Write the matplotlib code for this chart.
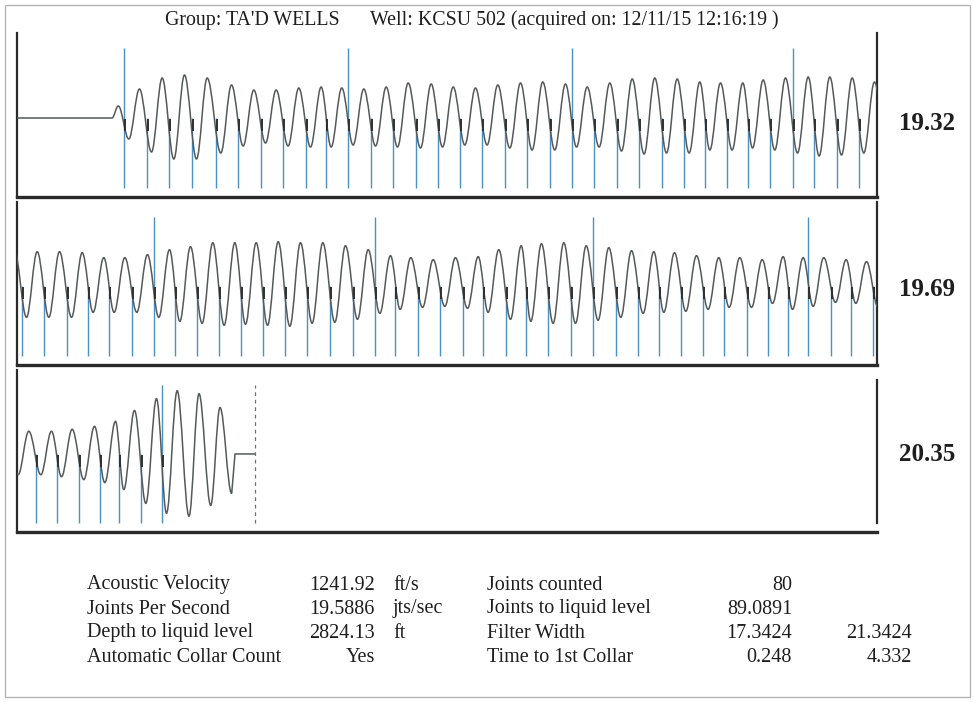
import matplotlib
matplotlib.use("Agg")
from matplotlib import pyplot as plt
from matplotlib.path import Path
from matplotlib.patches import PathPatch, Rectangle

plt.rcParams["font.family"] = ["Liberation Serif", "DejaVu Serif"]

# header
group_name = "TA'D WELLS"
well_name = "KCSU 502"
acquired = "12/11/15 12:16:19"

# collar (joint) arrival times in seconds
collar_t = [
    0.2488, 0.3016, 0.3535, 0.4063, 0.4628, 0.5147, 0.5667, 0.6193, 0.6714, 0.7193,
    0.7705, 0.8226, 0.8737, 0.9272, 0.9784, 1.0302, 1.0821, 1.1349, 1.1867, 1.2395,
    1.2900, 1.3426, 1.3947, 1.4472, 1.4993, 1.5519, 1.6000, 1.6519, 1.6993, 1.7512,
    1.8040, 1.8542, 1.9063, 1.9581,
    2.0109, 2.0628, 2.1156, 2.1658, 2.2147, 2.2674, 2.3186, 2.3674, 2.4193, 2.4705,
    2.5202, 2.5714, 2.6233, 2.6751, 2.7279, 2.7807, 2.8326, 2.8798, 2.9319, 2.9837,
    3.0365, 3.0844, 3.1365, 3.1837, 3.2356, 3.2877, 3.3402, 3.3930, 3.4449, 3.4930,
    3.5442, 3.5960, 3.6449, 3.6970, 3.7458, 3.7923, 3.8402, 3.8923, 3.9395, 3.9914,
    4.0442, 4.0923, 4.1442, 4.1930, 4.2372, 4.2884, 4.3365,
]

# filtered echo: trough just after each collar, peak before the next one
trough_v = [
    -21, -34, -41, -41, -35, -28, -25, -28, -29, -29,
    -27, -28, -29, -30, -29, -27, -27, -30, -32, -32,
    -29, -29, -33, -36, -35, -35, -32, -32, -30, -32,
    -35, -38, -37, -35,
    -31, -31, -31, -26, -26, -26, -31, -35, -37, -39,
    -38, -39, -40, -37, -36, -33, -27, -23, -21, -20,
    -22, -26, -33, -35, -37, -37, -34, -31, -27, -26,
    -25, -23, -21, -21, -17, -23, -20, -16, -17, -21,
    -21, -23, -26, -29, -36, -50, -60,
]
peak_v = [
    29, 40, 43, 40, 33, 28, 28, 30, 31, 30,
    29, 31, 35, 34, 31, 30, 33, 35, 36, 34,
    31, 35, 39, 40, 39, 36, 35, 35, 38, 40,
    41, 41, 40, 36,
    35, 35, 34, 29, 29, 32, 37, 40, 44, 44,
    44, 45, 44, 44, 41, 37, 31, 29, 27, 29,
    30, 37, 41, 43, 44, 41, 39, 36, 35, 34,
    31, 29, 29, 27, 30, 29, 29, 27, 25, 23,
    23, 25, 28, 33, 44, 56, 64,
]

# echo onset and the tail past the last counted collar
onset_t = [0.2209, 0.2356]
onset_v = [0, 12]
tail_t = [4.4000, 4.4233, 4.4505, 4.4721, 4.4993]
tail_v = [-63, 61, -52, 47, -40]
trace_end_t = 4.5070
liquid_t = 4.5535

panel_labels = ["19.32", "19.69", "20.35"]
panel_seconds = 2.0

left_labels = ["Acoustic Velocity", "Joints Per Second", "Depth to liquid level", "Automatic Collar Count"]
left_values = ["1241.92", "19.5886", "2824.13", "Yes"]
left_units = ["ft/s", "jts/sec", "ft", ""]
right_labels = ["Joints counted", "Joints to liquid level", "Filter Width", "Time to 1st Collar"]
right_values = ["80", "89.0891", "17.3424", "0.248"]
extra_values = ["", "", "21.3424", "4.332"]

W, H = 975, 702
TROUGH_LAG = 0.0112
PEAK_LAG = 0.036
WAVE_COLOR = "#55595a"
COLLAR_COLOR = "#4b90c6"
FRAME_COLOR = "#2a2a2a"
TEXT_COLOR = "#1e1e1e"


def fx(x):
    return x / W


def fy(y):
    return 1 - y / H


def build_trace():
    ext = [(onset_t[1], onset_v[1])]
    for t, tv, pv in zip(collar_t, trough_v, peak_v):
        ext.append((t + TROUGH_LAG, tv))
        ext.append((t + PEAK_LAG, pv))
    ext += list(zip(tail_t, tail_v))

    verts = [(0.0, 0.0), (onset_t[0], onset_v[0])]
    codes = [Path.MOVETO, Path.LINETO]
    a = 0.3634  # bezier handle that follows a half cosine
    prev = verts[-1]
    for cur in ext:
        dt = cur[0] - prev[0]
        verts += [(prev[0] + a * dt, prev[1]), (cur[0] - a * dt, cur[1]), cur]
        codes += [Path.CURVE4] * 3
        prev = cur
    verts += [(trace_end_t, 0.0), (liquid_t, 0.0)]
    codes += [Path.LINETO, Path.LINETO]
    return Path(verts, codes)


fig = plt.figure(figsize=(W / 100, H / 100), dpi=100)
fig.patches.append(Rectangle((fx(5), fy(697)), fx(965), 692 / H, transform=fig.transFigure,
                             fill=False, edgecolor="#b4b4b4", linewidth=1.0))

trace = build_trace()
panels = [(33, 197), (202, 365), (370, 532)]
label_base = [129.5, 295.5, 461]
tall = [i % 10 == 0 for i in range(len(collar_t))]

for i, (top, bottom) in enumerate(panels):
    ax = fig.add_axes([fx(17), fy(bottom), fx(860), (bottom - top) / H])
    t0 = i * panel_seconds
    ax.set_xlim(t0, t0 + panel_seconds)
    ax.set_ylim(-79, 85)
    ax.set_xticks([])
    ax.set_yticks([])
    ax.patch.set_alpha(0)
    ax.spines["top"].set_visible(False)
    for side, lw in (("left", 1.6), ("right", 1.6), ("bottom", 2.4)):
        ax.spines[side].set_color(FRAME_COLOR)
        ax.spines[side].set_linewidth(lw)
    if i == 2:
        ax.spines["right"].set_bounds(-70, 75)

    short = [t for t, big in zip(collar_t, tall) if not big]
    longs = [t for t, big in zip(collar_t, tall) if big]
    ax.vlines(short, -70, 0, color=COLLAR_COLOR, linewidth=1.0, zorder=2)
    ax.vlines(longs, -70, 70, color=COLLAR_COLOR, linewidth=1.0, zorder=2)

    ax.add_patch(PathPatch(trace, fill=False, edgecolor=WAVE_COLOR, linewidth=1.1, zorder=3))
    ax.vlines([t + 0.0025 for t in collar_t], -13, -1, color="#303030", linewidth=1.4, zorder=4)

    if i == 2:
        ax.vlines([liquid_t], -70, 70, color="#707070", linewidth=0.9,
                  linestyles=(0, (3, 3)), zorder=2)

    fig.text(fx(927), fy(label_base[i]), panel_labels[i], ha="center", va="baseline",
             fontsize=18, fontweight="bold", color=TEXT_COLOR)

fig.text(fx(165), fy(25.5), f"Group: {group_name}", ha="left", va="baseline",
         fontsize=14.3, color=TEXT_COLOR)
fig.text(fx(370), fy(25.5), f"Well: {well_name} (acquired on: {acquired} )", ha="left",
         va="baseline", fontsize=14.3, color=TEXT_COLOR)

fs = 14.5
for r in range(4):
    y = fy(589.5 + 24 * r)
    fig.text(fx(87), y, left_labels[r], ha="left", va="baseline", fontsize=fs, color=TEXT_COLOR)
    fig.text(fx(375), y, left_values[r], ha="right", va="baseline", fontsize=fs, color=TEXT_COLOR)
    fig.text(fx(393), y, left_units[r], ha="left", va="baseline", fontsize=fs, color=TEXT_COLOR)
    fig.text(fx(487), y, right_labels[r], ha="left", va="baseline", fontsize=fs, color=TEXT_COLOR)
    fig.text(fx(792), y, right_values[r], ha="right", va="baseline", fontsize=fs, color=TEXT_COLOR)
    fig.text(fx(912), y, extra_values[r], ha="right", va="baseline", fontsize=fs, color=TEXT_COLOR)

fig.savefig("out.png", dpi=100)
